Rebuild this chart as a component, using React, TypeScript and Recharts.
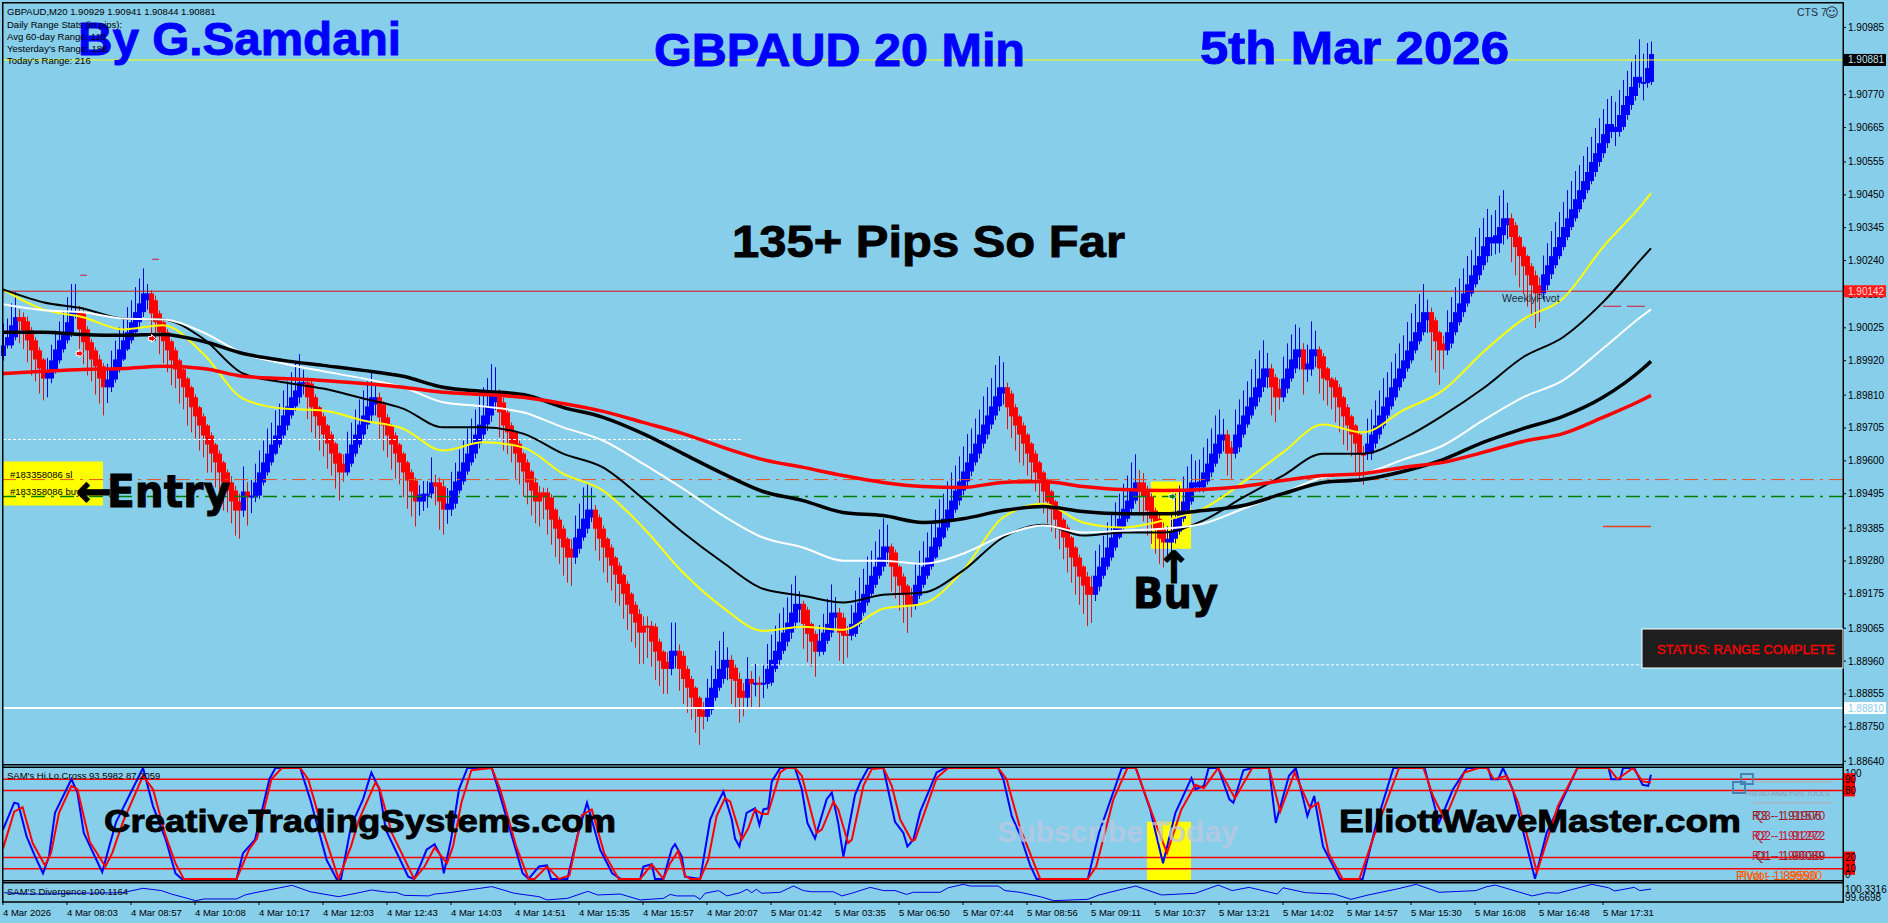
import React from 'react';
import {
    Bar,
    ComposedChart,
    Line,
    ReferenceArea,
    ReferenceDot,
    ReferenceLine,
    XAxis,
    YAxis,
} from 'recharts';

// prices are kept in points: 90881 means 1.90881
const closePoints = [
    89969, 89995, 90033, 90059, 90046, 90017, 89985, 89953, 89924, 89895, 89863, 89889, 89921, 89956, 89985, 90011, 90043, 90075, 90075, 90020,
    89979, 89953, 89924, 89902, 89863, 89835, 89860, 89892, 89924, 89956, 89985, 90011, 90043, 90075, 90103, 90135, 90113, 90071, 90043, 90011,
    89982, 89953, 89921, 89892, 89863, 89835, 89803, 89771, 89742, 89713, 89681, 89652, 89623, 89595, 89563, 89531, 89505, 89470, 89441, 89470,
    89502, 89483, 89489, 89531, 89563, 89595, 89623, 89652, 89681, 89713, 89745, 89774, 89803, 89825, 89851, 89847, 89803, 89771, 89742, 89713,
    89684, 89655, 89623, 89591, 89563, 89591, 89623, 89652, 89684, 89716, 89745, 89774, 89803, 89780, 89739, 89713, 89681, 89652, 89623, 89595,
    89563, 89537, 89502, 89470, 89492, 89495, 89495, 89531, 89518, 89470, 89444, 89463, 89505, 89534, 89566, 89595, 89623, 89655, 89684, 89716,
    89745, 89774, 89809, 89787, 89755, 89713, 89691, 89655, 89623, 89595, 89566, 89531, 89505, 89470, 89499, 89483, 89444, 89412, 89383, 89351,
    89323, 89291, 89319, 89355, 89383, 89415, 89444, 89419, 89383, 89351, 89323, 89291, 89265, 89236, 89207, 89175, 89140, 89111, 89083, 89051,
    89073, 89070, 89022, 88990, 88961, 88935, 88958, 88993, 88977, 88935, 88903, 88875, 88843, 88811, 88782, 88804, 88843, 88875, 88903, 88935,
    88964, 88939, 88903, 88897, 88843, 88865, 88903, 88887, 88891, 88887, 88891, 88935, 88964, 88993, 89022, 89051, 89083, 89115, 89143, 89124,
    89079, 89047, 89022, 88990, 89025, 89051, 89079, 89115, 89099, 89051, 89041, 89047, 89079, 89115, 89147, 89175, 89204, 89233, 89262, 89291,
    89326, 89307, 89262, 89230, 89201, 89172, 89140, 89169, 89204, 89233, 89262, 89291, 89326, 89355, 89387, 89415, 89444, 89473, 89505, 89534,
    89566, 89595, 89623, 89655, 89684, 89716, 89745, 89774, 89806, 89835, 89815, 89771, 89742, 89713, 89684, 89655, 89623, 89595, 89563, 89534,
    89502, 89470, 89444, 89412, 89387, 89355, 89323, 89291, 89262, 89230, 89201, 89172, 89198, 89233, 89262, 89291, 89323, 89355, 89387, 89415,
    89447, 89473, 89505, 89531, 89505, 89486, 89441, 89415, 89383, 89351, 89339, 89351, 89374, 89415, 89441, 89470, 89502, 89531, 89515, 89534,
    89563, 89591, 89623, 89655, 89684, 89665, 89623, 89643, 89684, 89716, 89745, 89774, 89803, 89835, 89863, 89895, 89867, 89835, 89803, 89831,
    89863, 89895, 89924, 89956, 89931, 89892, 89911, 89956, 89934, 89895, 89863, 89857, 89835, 89803, 89771, 89742, 89713, 89684, 89655, 89623,
    89623, 89655, 89684, 89713, 89745, 89774, 89803, 89835, 89863, 89895, 89921, 89953, 89982, 90011, 90043, 90075, 90049, 90011, 89982, 89953,
    89975, 90011, 90043, 90075, 90103, 90135, 90164, 90193, 90225, 90254, 90286, 90315, 90295, 90321, 90347, 90375, 90353, 90315, 90283, 90254,
    90222, 90193, 90161, 90135, 90161, 90196, 90225, 90254, 90283, 90315, 90347, 90375, 90404, 90436, 90465, 90494, 90523, 90555, 90583, 90615,
    90644, 90676, 90651, 90667, 90705, 90737, 90766, 90795, 90827, 90807, 90811, 90855, 90900,
];

// small candles that keep the colour of the run they sit in
const pauseCandles = [18, 36, 59, 75, 85, 93, 123, 134, 142, 147, 160, 161, 166, 168, 175, 181, 185, 199, 208, 211, 221, 227, 250, 272, 298, 305, 307, 316, 319, 324, 328, 340, 356, 360, 372, 376, 384, 402, 409, 410];

// wick lengths in pips, one per candle
const wickUpPips = [
    7, 6, 7, 8, 5, 3, 3, 2, 2, 2, 1, 4, 5, 6, 6, 7, 8, 9, 9, 4,
    3, 2, 2, 2, 3, 2, 5, 6, 6, 7, 7, 8, 7, 8, 8, 8, 3, 2, 3, 2,
    2, 2, 1, 2, 1, 2, 1, 1, 2, 1, 2, 1, 2, 1, 2, 1, 2, 4, 3, 5,
    8, 6, 5, 6, 7, 7, 8, 7, 8, 7, 8, 8, 8, 9, 9, 4, 3, 2, 2, 1,
    2, 1, 2, 1, 1, 6, 7, 7, 8, 8, 8, 8, 8, 4, 3, 2, 2, 1, 2, 1,
    1, 1, 2, 2, 3, 4, 4, 8, 5, 3, 4, 5, 6, 6, 7, 7, 8, 8, 8, 9,
    9, 9, 10, 9, 4, 3, 2, 2, 1, 2, 1, 2, 1, 3, 4, 3, 3, 2, 1, 2,
    2, 1, 6, 7, 8, 10, 8, 7, 3, 2, 2, 1, 2, 1, 2, 1, 2, 1, 2, 3,
    6, 6, 3, 2, 2, 1, 6, 9, 9, 4, 3, 2, 2, 1, 1, 5, 6, 7, 9, 9,
    9, 4, 3, 2, 4, 5, 7, 5, 6, 4, 6, 8, 8, 8, 9, 8, 8, 9, 9, 4,
    2, 2, 1, 2, 5, 6, 8, 9, 5, 3, 3, 5, 6, 7, 8, 8, 9, 8, 8, 9,
    9, 7, 2, 2, 1, 2, 1, 5, 7, 8, 8, 8, 8, 9, 9, 8, 9, 9, 8, 8,
    8, 9, 8, 8, 8, 9, 9, 9, 10, 10, 8, 3, 2, 2, 1, 2, 1, 1, 2, 1,
    1, 2, 1, 1, 2, 1, 2, 1, 1, 2, 1, 3, 7, 8, 7, 7, 8, 8, 8, 8,
    8, 8, 9, 9, 8, 6, 3, 2, 2, 3, 4, 4, 6, 8, 8, 8, 8, 9, 7, 7,
    8, 8, 8, 9, 8, 5, 3, 4, 8, 8, 8, 8, 9, 9, 9, 9, 5, 3, 2, 6,
    7, 8, 8, 8, 7, 4, 6, 9, 6, 2, 2, 1, 1, 2, 2, 1, 2, 1, 1, 1,
    5, 8, 8, 8, 8, 9, 8, 8, 8, 8, 8, 9, 9, 9, 9, 9, 4, 3, 2, 1,
    5, 7, 8, 8, 8, 8, 9, 8, 9, 9, 9, 9, 7, 8, 10, 9, 5, 3, 2, 1,
    1, 1, 2, 3, 5, 6, 7, 8, 8, 8, 8, 9, 9, 9, 8, 8, 8, 8, 8, 8,
    8, 8, 9, 8, 8, 8, 8, 8, 7, 12, 9, 8, 4,
];
const wickDownPips = [
    3, 2, 2, 2, 7, 6, 7, 8, 7, 8, 7, 12, 3, 2, 2, 2, 2, 3, 4, 7,
    7, 8, 7, 9, 8, 9, 10, 3, 2, 2, 1, 1, 2, 2, 3, 3, 6, 7, 6, 7,
    7, 7, 8, 6, 8, 7, 9, 8, 7, 8, 7, 9, 6, 8, 7, 9, 7, 7, 8, 9,
    4, 9, 10, 3, 2, 2, 2, 2, 1, 2, 2, 3, 2, 3, 4, 7, 7, 8, 7, 8,
    7, 8, 7, 8, 9, 3, 2, 2, 2, 2, 3, 3, 4, 7, 7, 8, 7, 8, 8, 7,
    8, 9, 8, 8, 9, 6, 9, 3, 6, 9, 8, 9, 4, 3, 2, 2, 2, 2, 3, 3,
    3, 4, 4, 5, 8, 8, 7, 6, 8, 7, 8, 7, 8, 7, 8, 7, 8, 8, 9, 8,
    9, 8, 9, 4, 3, 2, 3, 3, 7, 7, 8, 8, 8, 9, 7, 8, 8, 9, 8, 10,
    10, 10, 8, 9, 8, 8, 8, 4, 8, 7, 8, 8, 7, 8, 9, 4, 3, 3, 2, 2,
    3, 8, 8, 9, 8, 6, 6, 8, 8, 8, 9, 3, 2, 2, 3, 2, 3, 4, 4, 8,
    8, 9, 8, 8, 3, 2, 2, 3, 7, 9, 9, 7, 3, 2, 2, 2, 2, 2, 2, 2,
    3, 7, 8, 7, 8, 9, 9, 4, 3, 2, 2, 2, 2, 1, 2, 1, 2, 2, 2, 3,
    3, 3, 3, 2, 3, 3, 3, 3, 3, 3, 7, 7, 7, 8, 9, 7, 7, 6, 6, 7,
    7, 7, 7, 6, 7, 7, 8, 8, 9, 9, 9, 10, 9, 4, 3, 2, 2, 2, 2, 1,
    2, 2, 2, 2, 8, 8, 8, 8, 8, 8, 8, 8, 7, 3, 2, 2, 2, 2, 3, 3,
    3, 2, 3, 2, 3, 7, 7, 8, 3, 3, 2, 2, 2, 2, 3, 3, 7, 9, 8, 4,
    3, 3, 2, 3, 8, 8, 8, 4, 7, 8, 7, 8, 7, 8, 8, 9, 8, 7, 9, 8,
    10, 4, 4, 3, 3, 2, 2, 2, 2, 2, 2, 2, 2, 2, 2, 2, 8, 9, 10, 11,
    6, 3, 3, 2, 2, 3, 2, 2, 2, 3, 3, 4, 8, 7, 6, 6, 9, 8, 9, 10,
    9, 10, 10, 11, 9, 4, 3, 3, 2, 2, 2, 2, 2, 2, 2, 2, 2, 2, 3, 3,
    3, 3, 4, 9, 3, 2, 3, 3, 3, 3, 11, 3, 2,
];
const firstOpen = 89935;

// moving averages read every tenth candle
const maIndex = [0, 10, 20, 30, 40, 50, 60, 70, 80, 90, 100, 110, 120, 130, 140, 150, 160, 170, 180, 190, 200, 210, 220, 230, 240, 250, 260, 270, 280, 290, 300, 310, 320, 330, 340, 350, 360, 370, 380, 390, 400, 410, 412];
const maYellow = [90148, 90084, 90059, 90020, 90033, 89943, 89799, 89767, 89761, 89729, 89703, 89633, 89659, 89643, 89559, 89505, 89387, 89243, 89131, 89057, 89070, 89060, 89127, 89143, 89249, 89419, 89463, 89403, 89387, 89409, 89447, 89531, 89627, 89716, 89691, 89761, 89825, 89947, 90052, 90119, 90283, 90423, 90455];
const maBlackThin = [90148, 90107, 90087, 90055, 90052, 89991, 89879, 89851, 89831, 89799, 89767, 89707, 89707, 89687, 89623, 89579, 89479, 89371, 89275, 89191, 89169, 89147, 89172, 89179, 89249, 89355, 89396, 89361, 89371, 89371, 89409, 89483, 89553, 89623, 89623, 89671, 89745, 89831, 89931, 89995, 90107, 90251, 90279];
const maWhite = [90100, 90081, 90075, 90055, 90052, 90011, 89943, 89911, 89886, 89863, 89835, 89787, 89774, 89755, 89707, 89665, 89591, 89511, 89425, 89355, 89323, 89281, 89281, 89271, 89303, 89361, 89393, 89371, 89377, 89383, 89399, 89447, 89495, 89547, 89559, 89604, 89649, 89729, 89803, 89857, 89959, 90065, 90084];
const maBlackThick = [90011, 90011, 90004, 90001, 90004, 89982, 89943, 89921, 89905, 89889, 89870, 89835, 89822, 89812, 89771, 89739, 89687, 89623, 89559, 89502, 89473, 89435, 89425, 89403, 89415, 89441, 89454, 89438, 89431, 89431, 89441, 89457, 89495, 89531, 89540, 89566, 89604, 89659, 89703, 89742, 89803, 89895, 89918];
const maRed = [89879, 89886, 89892, 89895, 89902, 89895, 89870, 89863, 89857, 89847, 89835, 89819, 89812, 89803, 89783, 89758, 89723, 89687, 89643, 89604, 89579, 89553, 89531, 89518, 89515, 89531, 89534, 89518, 89508, 89505, 89508, 89518, 89537, 89553, 89559, 89579, 89595, 89627, 89662, 89687, 89739, 89796, 89809];

const priceTicks = [90985, 90770, 90665, 90555, 90450, 90345, 90240, 90130, 90025, 89920, 89810, 89705, 89600, 89495, 89385, 89280, 89175, 89065, 88960, 88855, 88750, 88640, 90881, 90142, 88810];

// stochastic, vertices
const fastX = [0, 2.8, 3.8, 5.9, 7.9, 10, 11.5, 13, 17.1, 18.6, 20.2, 24.8, 26.8, 28.3, 35, 37.5, 40.6, 43.1, 44.7, 58.4, 60, 63, 66.6, 68.1, 74.3, 76.8, 80.9, 83.4, 84.5, 87, 90, 92.1, 94.1, 95.7, 101.3, 102.8, 104.3, 105.9, 107.9, 109.5, 110.2, 112, 114, 116.1, 122.2, 124.3, 129.9, 131.4, 134, 136, 137, 141.1, 143.6, 146, 149.3, 152.3, 154.4, 159.3, 160.1, 162.2, 163, 165.1, 167.2, 168, 169.7, 170.5, 174.3, 176.8, 178, 180.1, 182.2, 183, 184.1, 185.9, 188, 189.1, 190.1, 191.3, 192.2, 194.3, 198, 199.7, 201.1, 203, 205.9, 207.2, 208.8, 210.1, 213, 214.3, 216.3, 220.1, 223, 225.1, 226.1, 227.6, 229.3, 231.3, 233.4, 235.5, 248.8, 250.1, 252.2, 254.3, 256.8, 258.4, 271.2, 274, 279.7, 283.2, 286.8, 290, 293.1, 297.1, 298.1, 300.2, 301.4, 303.8, 306.6, 307.6, 310.1, 312.3, 316.5, 318.2, 321.5, 323.2, 326.1, 327.8, 330, 334.2, 339.9, 343.4, 347.6, 355.4, 359, 362.5, 366, 371.3, 372.1, 373.8, 375, 377.4, 383, 385.9, 393.6, 401.4, 402.1, 404.3, 405, 407.8, 409.9, 411.3, 412];
const fastY = [45, 69, 68, 39, 22, 6, 21, 60, 90, 78, 42, 7, 33, 52, 100, 66, 37, 6, 1, 1, 24, 36, 90, 100, 100, 72, 18, 1, 1, 48, 72, 96, 81, 45, 3, 1, 13, 27, 32, 21, 6, 36, 81, 100, 100, 75, 6, 1, 12, 13, 1, 1, 39, 69, 27, 6, 1, 1, 12, 14, 1, 1, 28, 32, 21, 3, 1, 54, 64, 79, 54, 37, 30, 60, 64, 49, 63, 64, 88, 100, 100, 81, 51, 37, 72, 78, 51, 21, 76, 87, 100, 100, 52, 42, 30, 36, 61, 78, 96, 100, 100, 90, 57, 40, 13, 1, 1, 42, 100, 100, 63, 15, 60, 91, 81, 84, 100, 100, 72, 69, 98, 100, 100, 51, 93, 100, 57, 75, 30, 1, 1, 51, 100, 100, 51, 81, 100, 100, 90, 90, 100, 81, 1, 42, 100, 100, 90, 90, 100, 100, 85, 84, 94];
const slowX = [0, 2.8, 4.9, 7.4, 10.5, 12, 14, 17.1, 18.6, 21.7, 25.6, 27.3, 29.9, 35, 37.5, 40.6, 43.1, 45.2, 58.4, 61.5, 63.5, 67.1, 69.7, 74.3, 76.3, 79.9, 83.9, 87, 89, 93.1, 94.1, 97.2, 102.8, 105.4, 107.9, 111, 112.5, 114.6, 117.1, 122.2, 124.3, 128.3, 131.4, 132.9, 136, 139, 141.6, 144.7, 147.2, 150.3, 153.9, 159.3, 162.2, 165.1, 166.8, 168.8, 170.5, 171.8, 174.3, 176.3, 178.4, 180.5, 181.8, 184.7, 186.3, 188, 189.7, 191.2, 194.3, 195.9, 198, 199.7, 203.4, 204.7, 207.6, 208.8, 211.3, 212.2, 215.1, 217.2, 220.1, 222.2, 224.3, 227.2, 228, 233.4, 236.3, 248.8, 250.9, 254.3, 259.3, 271.2, 273.3, 277.6, 281.1, 283.2, 287.5, 291, 294.6, 298.1, 300.2, 303.8, 308, 312.3, 316.5, 319.3, 322.9, 326.8, 328.8, 331.4, 334.9, 339.1, 342.7, 349, 355.1, 357.5, 360.4, 365.3, 368.9, 371, 372.7, 376, 378.8, 383.5, 388.7, 393.6, 401.4, 403.6, 407.5, 409.9, 412];
const slowY = [28, 61, 65, 33, 13, 24, 60, 84, 81, 34, 12, 24, 51, 93, 81, 40, 15, 1, 1, 27, 37, 90, 100, 100, 90, 45, 1, 30, 54, 87, 82, 42, 1, 12, 29, 15, 30, 69, 98, 100, 81, 30, 1, 1, 12, 1, 4, 58, 63, 24, 1, 1, 14, 1, 15, 26, 4, 1, 1, 18, 57, 73, 70, 36, 46, 63, 59, 59, 96, 100, 100, 93, 42, 45, 70, 63, 33, 36, 84, 99, 100, 84, 54, 35, 36, 91, 100, 100, 90, 46, 1, 1, 12, 72, 100, 100, 57, 24, 63, 85, 82, 100, 73, 100, 100, 61, 96, 64, 69, 24, 1, 1, 39, 100, 100, 75, 54, 96, 100, 100, 90, 93, 69, 7, 66, 100, 100, 90, 100, 88, 87];
const oscLevels = [90, 80, 20, 10];
const oscTicks = [100, 90, 80, 20, 10, 0];

// divergence window
const divX = [0.3, 5.4, 11.5, 19.7, 29.9, 35, 39.6, 42.1, 48.2, 50.3, 58.4, 60.5, 63, 70.7, 72.2, 76.8, 83.9, 89, 92.1, 96.2, 98.2, 100.3, 106.4, 107.9, 111.5, 117.6, 122.2, 127.8, 134, 136, 141.1, 146.2, 148.7, 154.3, 159.3, 165.1, 166.8, 168.4, 173, 174.3, 175.5, 178.9, 181, 184.3, 186, 187.2, 188.3, 189.7, 194.3, 197.6, 200.1, 202.2, 207.6, 209.7, 212.2, 216.8, 220.1, 223, 225.9, 227.6, 234.3, 236.3, 240.1, 241.8, 248.8, 250.5, 254.3, 259.3, 262.7, 271.2, 274, 279, 283.2, 289.6, 298.1, 303.8, 307.3, 311.5, 318.6, 320, 325.7, 332.8, 337, 341.3, 348.4, 353.3, 359, 368.2, 371, 373.1, 382.3, 385.9, 388.7, 397.2, 401.4, 402.9, 407.8, 409.2, 412];
const divY = [99.94, 99.87, 99.87, 99.91, 99.94, 100.17, 100.05, 99.87, 99.52, 99.61, 99.61, 99.82, 99.94, 100.26, 100.33, 99.99, 99.73, 99.94, 100.08, 99.96, 99.96, 99.8, 99.77, 99.87, 99.94, 100.12, 100.26, 99.91, 99.73, 99.56, 99.64, 100.01, 99.82, 99.87, 99.56, 99.64, 99.85, 99.77, 99.77, 99.59, 99.91, 100.05, 99.77, 99.94, 100.12, 99.94, 100.12, 99.91, 99.96, 100.29, 100.05, 99.99, 99.99, 99.77, 99.91, 100.22, 100.05, 100.05, 99.85, 99.96, 99.96, 100.2, 100.38, 100.29, 100.29, 100.05, 99.96, 99.73, 99.52, 99.59, 99.82, 100.08, 100.29, 99.82, 99.91, 100.34, 100.05, 100.22, 99.87, 100.2, 99.94, 99.87, 99.59, 99.82, 100.13, 100.38, 99.96, 100.05, 100.26, 100.34, 99.77, 99.94, 99.91, 100.38, 100.2, 100.03, 100.22, 100.05, 100.13];
const divTicks = [100.3316, 99.6698];

const timeLabels = ['4 Mar 2026', '4 Mar 08:03', '4 Mar 08:57', '4 Mar 10:08', '4 Mar 10:17', '4 Mar 12:03', '4 Mar 12:43', '4 Mar 14:03', '4 Mar 14:51', '4 Mar 15:35', '4 Mar 15:57', '4 Mar 20:07', '5 Mar 01:42', '5 Mar 03:35', '5 Mar 06:50', '5 Mar 07:44', '5 Mar 08:56', '5 Mar 09:11', '5 Mar 10:37', '5 Mar 13:21', '5 Mar 14:02', '5 Mar 14:57', '5 Mar 15:30', '5 Mar 16:08', '5 Mar 16:48', '5 Mar 17:31'];
const timeTicks = [0, 16, 32, 48, 64, 80, 96, 112, 128, 144, 160, 176, 192, 208, 224, 240, 256, 272, 288, 304, 320, 336, 352, 368, 384, 400];

// Heikin-Ashi style candles: inside a run the body reaches back two closes, so they overlap into a staircase
const candleRows: any[] = [];
closePoints.forEach((close, i) => {
    const prev = i === 0 ? firstOpen : closePoints[i - 1];
    const prev2 = i < 2 ? prev : closePoints[i - 2];
    const sameWay = (close - prev) * (prev - prev2) > 0;
    const open = sameWay ? prev2 : prev;
    const down = pauseCandles.includes(i) ? candleRows[i - 1].down : close < prev;
    const bodyTop = Math.max(open, close);
    const bodyBottom = Math.min(open, close);
    const high = down ? bodyTop + wickUpPips[i] * 5 : Math.max(prev, close) + wickUpPips[i] * 10;
    const low = down ? Math.min(prev, close) - wickDownPips[i] * 10 : bodyBottom - wickDownPips[i] * 5;
    candleRows.push({ i, bodyTop, bodyBottom, down, high, low, range: [low, high] });
});
const maRows = maIndex.map((i, k) => ({
    i,
    yellow: maYellow[k],
    blackThin: maBlackThin[k],
    white: maWhite[k],
    blackThick: maBlackThick[k],
    red: maRed[k],
}));
const fastRows = fastX.map((i, k) => ({ i, v: fastY[k] }));
const slowRows = slowX.map((i, k) => ({ i, v: slowY[k] }));
const divRows = divX.map((i, k) => ({ i, v: divY[k] }));

const UI_FONT = '"Liberation Sans", Arial, sans-serif';
const SKY = '#87ceeb';
const X_DOMAIN: [number, number] = [0, 460];

const CandleShape = (props: any) => {
    const { x, y, width, height, payload } = props;
    const { bodyTop, bodyBottom, down, high, low } = payload;
    const perPoint = height / (high - low);
    const cx = Math.round(x + width / 2);
    const top = y + (high - bodyTop) * perPoint;
    const bodyHeight = Math.max((bodyTop - bodyBottom) * perPoint, 2);
    return (
        <g>
            <rect x={cx} y={y} width={1} height={height} fill={down ? '#dc1414' : '#0000e6'} />
            <rect x={cx - 2} y={top} width={5} height={bodyHeight} fill={down ? '#ff0000' : '#0000ff'} />
        </g>
    );
};

const PriceTick = (props: any) => {
    const { x, y, payload } = props;
    const label = (1 + payload.value / 100000).toFixed(5);
    const boxes: Record<number, { bg: string; fg: string }> = {
        90881: { bg: '#000000', fg: '#bfe6f5' },
        90142: { bg: '#ff1c1c', fg: '#ffd9d9' },
        88810: { bg: '#ffffff', fg: '#87ceeb' },
    };
    const box = boxes[payload.value];
    return (
        <g>
            {box && <rect x={x - 4} y={y - 6} width={42} height={12} fill={box.bg} />}
            <text x={x} y={y + 3.5} fontSize={10} fontFamily={UI_FONT} fill={box ? box.fg : '#000000'}>
                {label}
            </text>
        </g>
    );
};

const OscTick = (props: any) => {
    const { x, y, payload } = props;
    const v = payload.value;
    const boxed = oscLevels.includes(v);
    const shift = v === 100 ? 5 : v === 0 ? -6 : 0;
    return (
        <g>
            {boxed && <rect x={x - 4} y={y - 6} width={11} height={12} fill="#ff0000" />}
            <text x={x - 3} y={y + 3.5 + shift} fontSize={10} fontFamily={UI_FONT} fill="#000000">
                {v}
            </text>
        </g>
    );
};

const DivTick = (props: any) => {
    const { x, y, payload } = props;
    const shift = payload.value > 100 ? 4 : 0;
    return (
        <text x={x - 3} y={y + 3.5 + shift} fontSize={10} fontFamily={UI_FONT} fill="#000000">
            {payload.value.toFixed(4)}
        </text>
    );
};

const TimeTick = (props: any) => {
    const { x, y, payload } = props;
    return (
        <text x={x} y={y + 9} fontSize={9.5} fontFamily={UI_FONT} fill="#000000">
            {timeLabels[timeTicks.indexOf(payload.value)]}
        </text>
    );
};

const Arrowhead = (props: any) => {
    const { cx, cy, fill } = props;
    return (
        <path
            d={`M${cx - 4},${cy - 2} h3 v-2 l4,4 l-4,4 v-2 h-3 z`}
            fill={fill}
            stroke="#ffffff"
            strokeWidth={1}
        />
    );
};

const Headline = ({ x, y, w, size, fill, font, children }: any) => (
    <text
        x={x}
        y={y}
        fontSize={size}
        fontWeight="bold"
        fontFamily={font ?? UI_FONT}
        fill={fill ?? '#000000'}
        stroke={fill ?? '#000000'}
        strokeWidth={0.9}
        textLength={w}
        lengthAdjust="spacingAndGlyphs"
    >
        {children}
    </text>
);

const Small = ({ x, y, size, fill, children }: any) => (
    <text x={x} y={y} fontSize={size ?? 9.5} fontFamily={UI_FONT} fill={fill ?? '#000000'}>
        {children}
    </text>
);

const Overlay = () => (
    <svg width={1888} height={923} style={{ position: 'absolute', left: 0, top: 0, pointerEvents: 'none' }}>
        {/* window frames */}
        <rect x={2} y={2} width={1841} height={1.5} fill="#000" />
        <rect x={2} y={2} width={1.5} height={901} fill="#000" />
        <rect x={1842.5} y={2} width={1.5} height={901} fill="#000" />
        <rect x={2} y={764} width={1841} height={1.5} fill="#000" />
        <rect x={2} y={766.5} width={1841} height={1.5} fill="#000" />
        <rect x={2} y={880} width={1841} height={1.5} fill="#000" />
        <rect x={2} y={882} width={1841} height={1.5} fill="#000" />

        <Headline x={78} y={55} w={323} size={46} fill="#0000ff">By G.Samdani</Headline>
        <Headline x={654} y={66} w={371} size={46} fill="#0000ff">GBPAUD 20 Min</Headline>
        <Headline x={1200} y={64} w={309} size={46} fill="#0000ff">5th Mar 2026</Headline>
        <Headline x={732} y={257} w={393} size={45}>135+ Pips So Far</Headline>

        <Small x={7} y={14.5}>GBPAUD,M20  1.90929 1.90941 1.90844 1.90881</Small>
        <Small x={7} y={27.5}>Daily Range Stats (in pips):</Small>
        <Small x={7} y={39.5}>Avg 60-day Range: 118</Small>
        <Small x={7} y={51.5}>Yesterday's Range: 188</Small>
        <Small x={7} y={63.5}>Today's Range: 216</Small>
        <Small x={1797} y={15.5} size={10.5} fill="#1c2b36">CTS 7</Small>
        <text x={1825} y={17} fontSize={13} fontFamily="DejaVu Sans" fill="#1c2b36">☺</text>
        <Small x={1502} y={301.5} size={10.5} fill="#1c2b36">WeeklyPivot</Small>

        <Small x={10} y={477.5} size={9.5}>#183358086 sl</Small>
        <Small x={10} y={494.5} size={9.5}>#183358086 buy</Small>
        <text x={76} y={506} fontSize={44} fontWeight="bold" fontFamily="DejaVu Sans" stroke="#000" strokeWidth={1} textLength={36} lengthAdjust="spacingAndGlyphs">←</text>
        <Headline x={107} y={507} w={123} size={44} font="DejaVu Sans">Entry</Headline>
        <text x={1174} y={583} fontSize={44} fontWeight="bold" fontFamily="DejaVu Sans" stroke="#000" strokeWidth={1} textAnchor="middle">↑</text>
        <Headline x={1133} y={608} w={85} size={42} font="DejaVu Sans">Buy</Headline>

        <rect x={1642} y={629} width={201} height={39} fill="#1e1e1e" stroke="#ffffff" strokeWidth={1} />
        <text x={1657} y={654} fontSize={12.5} fontFamily={UI_FONT} fill="#ff0000" stroke="#ff0000" strokeWidth={0.3} textLength={178} lengthAdjust="spacingAndGlyphs">STATUS: RANGE COMPLETE</text>

        <Small x={7} y={779}>SAM's Hi,Lo,Cross 93.5982 87.2059</Small>
        <Small x={7} y={895}>SAM'S Divergence 100.1164</Small>
        <Headline x={104} y={832} w={512} size={32}>CreativeTradingSystems.com</Headline>
        <Headline x={1339} y={832} w={402} size={32}>ElliottWaveMaster.com</Headline>
        <text x={997} y={842} fontSize={30} fontWeight="bold" fontFamily={UI_FONT} fill="rgba(190,200,225,0.75)" textLength={241} lengthAdjust="spacingAndGlyphs">Subscribe Today</text>

        <rect x={1741} y={774} width={12} height={10} fill="none" stroke="#4682b4" strokeWidth={2} />
        <rect x={1733} y={782} width={12} height={11} fill="none" stroke="#4682b4" strokeWidth={2} />
        <rect x={1753} y={781} width={79} height={1.5} fill="#a9b4bd" />
        <rect x={1753} y={802} width={79} height={1.5} fill="#a9b4bd" />
        <Small x={1745} y={796} size={7} fill="#8c9aa8">TREND ANALYSIS TOOLS</Small>

        <Small x={1752} y={820} size={12} fill="#8b1a1a">R3 - 1.91906</Small>
        <Small x={1755} y={820} size={12} fill="#b02030">Q3 - 1.91570</Small>
        <Small x={1752} y={840} size={12} fill="#dc143c">R2 - 1.91292</Small>
        <Small x={1755} y={840} size={12} fill="#b02030">Q2 - 1.91272</Small>
        <Small x={1752} y={860} size={12} fill="#dc143c">R1 - 1.90039</Small>
        <Small x={1755} y={860} size={12} fill="#8b1a1a">Q1 - 1.90089</Small>
        <Small x={1736} y={880} size={12} fill="#ff4500">Pivot - 1.89590</Small>
        <Small x={1739} y={880} size={12} fill="#ff6a00">PWot - 1.89530</Small>
    </svg>
);

const App = () => (
    <div style={{ position: 'absolute', left: 0, top: 0, width: 1888, height: 923, background: SKY, overflow: 'hidden' }}>
        <div style={{ position: 'absolute', left: 0, top: 0 }}>
            <ComposedChart width={1888} height={768} data={candleRows} margin={{ top: 3, right: 0, bottom: 3, left: 3 }}>
                <XAxis dataKey="i" type="number" domain={X_DOMAIN} hide />
                <YAxis
                    orientation="right"
                    width={45}
                    domain={[88628, 91063]}
                    ticks={priceTicks}
                    interval={0}
                    axisLine={false}
                    tickSize={3}
                    tickLine={{ stroke: '#000000' }}
                    tick={PriceTick}
                    allowDataOverflow
                />
                <ReferenceArea x1={0} x2={25} y1={89457} y2={89598} fill="#ffff00" fillOpacity={1} stroke="none" />
                <ReferenceArea x1={287} x2={294.8} y1={89319} y2={89534} fill="#ffff00" fillOpacity={1} stroke="none" />
                <ReferenceArea x1={294.8} x2={297} y1={89319} y2={89451} fill="#ffff00" fillOpacity={1} stroke="none" />
                <ReferenceLine y={90881} stroke="#ffff00" strokeWidth={1} />
                <ReferenceLine y={90142} stroke="#d81010" strokeWidth={1} />
                <ReferenceLine y={88810} stroke="#ffffff" strokeWidth={2} />
                <ReferenceLine y={89540} stroke="#e8501e" strokeWidth={1} strokeDasharray="14 6 3 6" />
                <ReferenceLine y={89486} stroke="#008000" strokeWidth={1.5} strokeDasharray="14 6 3 6" />
                <ReferenceLine segment={[{ x: 0, y: 89668 }, { x: 185, y: 89668 }]} stroke="#ffffff" strokeWidth={1} strokeDasharray="3 2" />
                <ReferenceLine segment={[{ x: 187, y: 88948 }, { x: 410, y: 88948 }]} stroke="#ffffff" strokeWidth={1} strokeDasharray="3 2" />
                <ReferenceLine segment={[{ x: 19.3, y: 90193 }, { x: 21, y: 90193 }]} stroke="#dc143c" strokeWidth={1} />
                <ReferenceLine segment={[{ x: 37.3, y: 90244 }, { x: 39, y: 90244 }]} stroke="#dc143c" strokeWidth={1} />
                <ReferenceLine segment={[{ x: 400, y: 90094 }, { x: 404.5, y: 90094 }]} stroke="#dc143c" strokeWidth={1} />
                <ReferenceLine segment={[{ x: 406, y: 90094 }, { x: 410.5, y: 90094 }]} stroke="#dc143c" strokeWidth={1} />
                <ReferenceLine segment={[{ x: 400, y: 89390 }, { x: 412, y: 89390 }]} stroke="#e8401e" strokeWidth={1.5} />
                <Bar dataKey="range" barSize={5} shape={CandleShape} isAnimationActive={false} />
                <Line data={maRows} dataKey="yellow" type="monotone" stroke="#ffff00" strokeWidth={2} dot={false} isAnimationActive={false} />
                <Line data={maRows} dataKey="blackThin" type="monotone" stroke="#000000" strokeWidth={2} dot={false} isAnimationActive={false} />
                <Line data={maRows} dataKey="white" type="monotone" stroke="#ffffff" strokeWidth={2} dot={false} isAnimationActive={false} />
                <Line data={maRows} dataKey="blackThick" type="monotone" stroke="#000000" strokeWidth={3.5} dot={false} isAnimationActive={false} />
                <Line data={maRows} dataKey="red" type="monotone" stroke="#ff0000" strokeWidth={3.5} dot={false} isAnimationActive={false} />
                <ReferenceDot x={19.3} y={89943} r={3} fill="#ff0000" stroke="none" shape={Arrowhead} />
                <ReferenceDot x={37.4} y={89991} r={3} fill="#ff0000" stroke="none" shape={Arrowhead} />
                <ReferenceDot x={292.5} y={89486} r={3} fill="#008000" stroke="none" shape={Arrowhead} />
            </ComposedChart>
        </div>

        <div style={{ position: 'absolute', left: 0, top: 767 }}>
            <ComposedChart width={1888} height={114} margin={{ top: 1, right: 0, bottom: 1, left: 3 }}>
                <XAxis dataKey="i" type="number" domain={X_DOMAIN} hide />
                <YAxis
                    orientation="right"
                    width={45}
                    domain={[0, 100]}
                    ticks={oscTicks}
                    interval={0}
                    axisLine={false}
                    tickLine={false}
                    tickSize={3}
                    tick={OscTick}
                />
                <ReferenceArea x1={286} x2={297} y1={0} y2={52} fill="#ffff00" fillOpacity={1} stroke="none" />
                {oscLevels.map(level => (
                    <ReferenceLine key={level} y={level} stroke="#ff0000" strokeWidth={1.5} />
                ))}
                <Line data={fastRows} dataKey="v" stroke="#0000ff" strokeWidth={2} dot={false} isAnimationActive={false} />
                <Line data={slowRows} dataKey="v" stroke="#ff0000" strokeWidth={2} dot={false} isAnimationActive={false} />
            </ComposedChart>
        </div>

        <div style={{ position: 'absolute', left: 0, top: 883 }}>
            <ComposedChart width={1888} height={40} margin={{ top: 0, right: 0, bottom: 0, left: 3 }}>
                <XAxis
                    dataKey="i"
                    type="number"
                    domain={X_DOMAIN}
                    ticks={timeTicks}
                    interval={0}
                    height={21}
                    tickSize={3}
                    axisLine={{ stroke: '#000000', strokeWidth: 1.5 }}
                    tickLine={{ stroke: '#000000' }}
                    tick={TimeTick}
                />
                <YAxis
                    orientation="right"
                    width={45}
                    domain={[99.45, 100.45]}
                    ticks={divTicks}
                    interval={0}
                    axisLine={false}
                    tickLine={false}
                    tickSize={3}
                    tick={DivTick}
                />
                <Line data={divRows} dataKey="v" stroke="#0000e6" strokeWidth={1} dot={false} isAnimationActive={false} />
            </ComposedChart>
        </div>

        <Overlay />
    </div>
);

export default App;
